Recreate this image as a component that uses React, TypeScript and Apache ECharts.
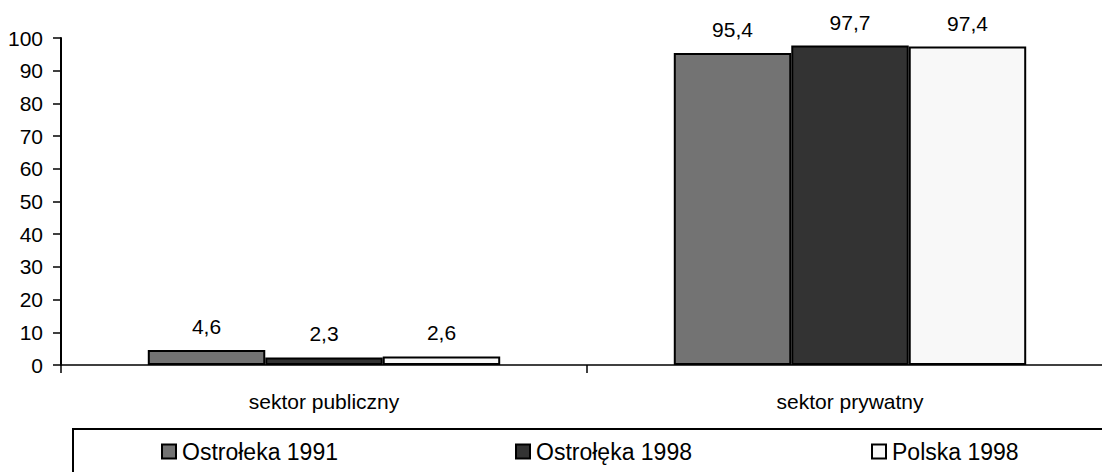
import React, { useEffect, useRef } from "react";
import * as echarts from "echarts";

const categories = ["sektor publiczny", "sektor prywatny"];
const seriesNames = ["Ostrołeka 1991", "Ostrołęka 1998", "Polska 1998"];
const ostroleka1991 = [4.6, 95.4];
const ostroleka1998 = [2.3, 97.7];
const polska1998 = [2.6, 97.4];
const colors = ["#737373", "#333333", "#f8f8f8"];
const legendLefts = [161, 515, 871];

const FONT = "'Liberation Sans', Arial, sans-serif";
const FS = 21;
const LFS = 23;

export default function App() {
  const ref = useRef<HTMLDivElement>(null);
  useEffect(() => {
    if (!ref.current) return;
    const chart = echarts.init(ref.current, undefined, { renderer: "svg" });
    const data = [ostroleka1991, ostroleka1998, polska1998];
    chart.setOption({
      animation: false,
      textStyle: { fontFamily: FONT },
      grid: { left: 61, top: 38, height: 327, width: 1052, outerBoundsMode: "none", containLabel: false },
      legend: seriesNames.map((n, i) => ({
        data: [n],
        left: legendLefts[i],
        top: 440,
        itemWidth: 14,
        itemHeight: 14,
        itemGap: 0,
        padding: 0,
        icon: "rect",
        itemStyle: { borderColor: "#000", borderWidth: 2 },
        textStyle: { fontSize: LFS, color: "#000", fontFamily: FONT, padding: [0, 0, 0, 1] },
        selectedMode: false,
      })),
      graphic: [
        {
          type: "rect",
          shape: { x: 73, y: 429, width: 1100, height: 100 },
          style: { fill: "none", stroke: "#000", lineWidth: 2 },
          silent: true,
        },
      ],
      xAxis: {
        type: "category",
        data: categories,
        axisLine: { lineStyle: { color: "#000", width: 1.5 } },
        axisTick: { show: true, length: 8, lineStyle: { color: "#000", width: 1.5 } },
        axisLabel: { fontSize: FS, color: "#000", margin: 26, fontFamily: FONT },
      },
      yAxis: {
        type: "value",
        min: 0,
        max: 100,
        interval: 10,
        splitLine: { show: false },
        axisLine: { show: true, lineStyle: { color: "#000", width: 2 } },
        axisTick: { show: true, length: 8, lineStyle: { color: "#000", width: 1.5 } },
        axisLabel: { fontSize: FS, color: "#000", margin: 18, fontFamily: FONT },
      },
      series: seriesNames.map((n, i) => ({
        name: n,
        type: "bar",
        data: data[i],
        barGap: "0%",
        barCategoryGap: "33%",
        itemStyle: { color: colors[i], borderColor: "#000", borderWidth: 2 },
        label: {
          show: true,
          position: "top",
          distance: 13,
          fontSize: FS,
          color: "#000",
          fontFamily: FONT,
          formatter: (p: any) => String(p.value).replace(".", ","),
        },
      })),
    });
    return () => chart.dispose();
  }, []);
  return <div ref={ref} style={{ width: 1102, height: 472, position: "absolute", left: 0, top: 0 }} />;
}
